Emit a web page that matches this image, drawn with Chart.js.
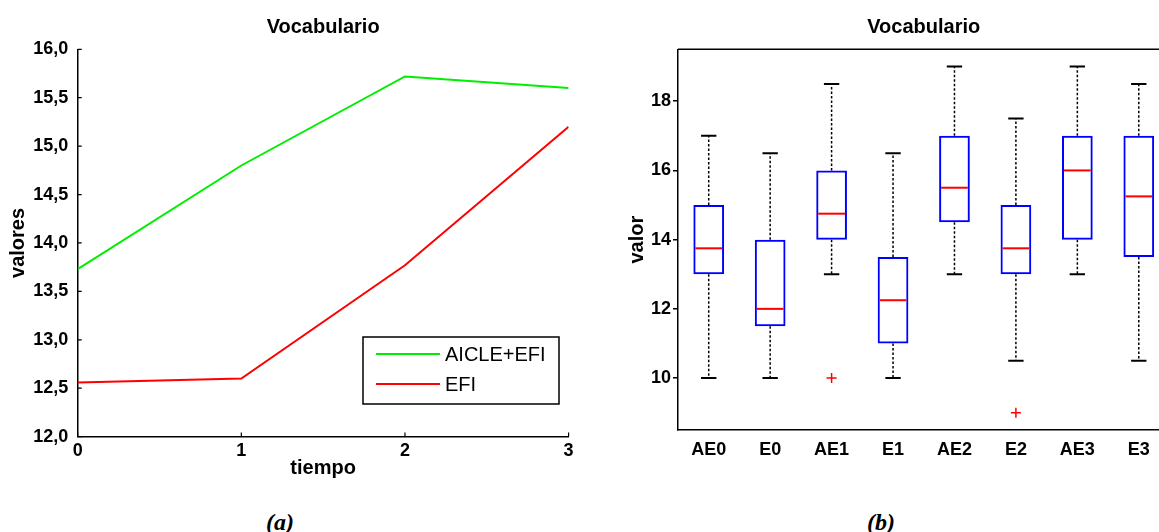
<!DOCTYPE html>
<html>
<head>
<meta charset="utf-8">
<script src="https://cdn.jsdelivr.net/npm/chart.js@4.4.1/dist/chart.umd.min.js"></script>
<style>
  html, body { margin: 0; padding: 0; background: #fff; }
  body { width: 1159px; height: 532px; overflow: hidden; position: relative; }
  #izq { position: absolute; left: 0; top: 0; }
  #der { position: absolute; left: 580px; top: 0; }
  .pie { position: absolute; top: 509px; line-height: 24px; font: italic bold 24px "Liberation Serif", "Times New Roman", serif; transform: translateX(-50%); }
</style>
</head>
<body>
<canvas id="izq" width="580" height="490"></canvas>
<canvas id="der" width="600" height="490"></canvas>
<div class="pie" style="left:280px">(a)</div>
<div class="pie" style="left:881px">(b)</div>
<script>
// panel (a): mean per time point
const tiempo = [0, 1, 2, 3];
const serieAicleEfi = [13.73, 14.80, 15.72, 15.60];
const serieEfi = [12.56, 12.60, 13.77, 15.20];
const marcasValores = [12, 12.5, 13, 13.5, 14, 14.5, 15, 15.5, 16];

// panel (b): box plot per group
const grupos = ["AE0", "E0", "AE1", "E1", "AE2", "E2", "AE3", "E3"];
const minimos = [10, 10, 13, 10, 13, 10.5, 13, 10.5];
const cuartil1 = [13, 11.5, 14, 11, 14.5, 13, 14, 13.5];
const medianas = [13.75, 12, 14.75, 12.25, 15.5, 13.75, 16, 15.25];
const cuartil3 = [15, 14, 16, 13.5, 17, 15, 17, 17];
const maximos = [17, 16.5, 18.5, 16.5, 19, 17.5, 19, 18.5];
const atipicosGrupo = ["AE1", "E2"];
const atipicosValor = [10, 9];
const marcasValor = [10, 12, 14, 16, 18];

const familia = "'Liberation Sans', Arial, sans-serif";
Chart.defaults.font.family = familia;
Chart.defaults.color = "#000";

// title centred over the plot area, like matlab does
const tituloPanel = {
  id: "tituloPanel",
  afterDraw(chart, args, opts) {
    const { ctx, chartArea } = chart;
    ctx.save();
    ctx.font = "bold 20px " + familia;
    ctx.fillStyle = "#000";
    ctx.textAlign = "center";
    ctx.textBaseline = "middle";
    ctx.fillText(opts.text, (chartArea.left + chartArea.right) / 2, opts.y);
    ctx.restore();
  }
};

// legend box sitting inside the plot, bottom right
const leyenda = {
  id: "leyenda",
  afterDatasetsDraw(chart) {
    const { ctx, chartArea } = chart;
    const w = 196, h = 67;
    const x0 = chartArea.right - 9.6 - w;
    const y0 = chartArea.bottom - 32.6 - h;
    ctx.save();
    ctx.fillStyle = "#fff";
    ctx.fillRect(x0, y0, w, h);
    ctx.strokeStyle = "#000";
    ctx.lineWidth = 1.5;
    ctx.strokeRect(x0, y0, w, h);
    ctx.font = "20px " + familia;
    ctx.textBaseline = "middle";
    chart.data.datasets.forEach((ds, i) => {
      const y = y0 + 17 + i * 30;
      ctx.strokeStyle = ds.borderColor;
      ctx.lineWidth = 2;
      ctx.beginPath();
      ctx.moveTo(x0 + 13, y);
      ctx.lineTo(x0 + 77, y);
      ctx.stroke();
      ctx.fillStyle = "#000";
      ctx.fillText(ds.label, x0 + 82, y + 1);
    });
    ctx.restore();
  }
};

// small inward tick marks on the line chart axes
const marcasDentro = {
  id: "marcasDentro",
  afterDraw(chart) {
    const { ctx, chartArea: a, scales: { x, y } } = chart;
    ctx.save();
    ctx.strokeStyle = "#000";
    ctx.lineWidth = 1.2;
    ctx.beginPath();
    y.ticks.forEach(t => {
      const py = y.getPixelForValue(t.value);
      ctx.moveTo(a.left, py);
      ctx.lineTo(a.left + 4, py);
    });
    x.ticks.forEach(t => {
      const px = x.getPixelForValue(t.value);
      ctx.moveTo(px, a.bottom);
      ctx.lineTo(px, a.bottom - 4);
    });
    ctx.stroke();
    ctx.restore();
  }
};

// whiskers, caps and medians of the box plot
const bigotes = {
  id: "bigotes",
  afterDatasetsDraw(chart) {
    const { ctx, scales: { x, y } } = chart;
    const paso = x.getPixelForValue(1) - x.getPixelForValue(0);
    ctx.save();
    grupos.forEach((g, i) => {
      const cx = x.getPixelForValue(i);
      ctx.strokeStyle = "#000";
      ctx.lineWidth = 1.5;
      ctx.setLineDash([2.5, 2]);
      ctx.beginPath();
      ctx.moveTo(cx, y.getPixelForValue(cuartil3[i]));
      ctx.lineTo(cx, y.getPixelForValue(maximos[i]));
      ctx.moveTo(cx, y.getPixelForValue(cuartil1[i]));
      ctx.lineTo(cx, y.getPixelForValue(minimos[i]));
      ctx.stroke();
      ctx.setLineDash([]);
      ctx.lineWidth = 2;
      ctx.beginPath();
      ctx.moveTo(cx - paso * 0.125, y.getPixelForValue(maximos[i]));
      ctx.lineTo(cx + paso * 0.125, y.getPixelForValue(maximos[i]));
      ctx.moveTo(cx - paso * 0.125, y.getPixelForValue(minimos[i]));
      ctx.lineTo(cx + paso * 0.125, y.getPixelForValue(minimos[i]));
      ctx.stroke();
      ctx.strokeStyle = "#ff0000";
      ctx.beginPath();
      ctx.moveTo(cx - paso * 0.25 + 2, y.getPixelForValue(medianas[i]));
      ctx.lineTo(cx + paso * 0.25 - 2, y.getPixelForValue(medianas[i]));
      ctx.stroke();
    });
    ctx.restore();
  }
};

// closes the frame on top and right
const marco = {
  id: "marco",
  afterDraw(chart) {
    const { ctx, chartArea: a } = chart;
    ctx.save();
    ctx.strokeStyle = "#000";
    ctx.lineWidth = 1.5;
    ctx.beginPath();
    ctx.moveTo(a.left, a.top);
    ctx.lineTo(a.right, a.top);
    ctx.lineTo(a.right, a.bottom);
    ctx.stroke();
    ctx.restore();
  }
};

const fuenteMarcas = { size: 18, weight: "bold" };

new Chart(document.getElementById("izq"), {
  type: "line",
  data: {
    datasets: [
      {
        label: "AICLE+EFI",
        data: tiempo.map((t, i) => ({ x: t, y: serieAicleEfi[i] })),
        borderColor: "#00ee00",
        borderWidth: 2,
        pointRadius: 0
      },
      {
        label: "EFI",
        data: tiempo.map((t, i) => ({ x: t, y: serieEfi[i] })),
        borderColor: "#ff0000",
        borderWidth: 2,
        pointRadius: 0
      }
    ]
  },
  options: {
    responsive: false,
    animation: false,
    layout: { padding: { top: 49.3, left: 0, right: 11.4, bottom: 9.4 } },
    plugins: {
      legend: { display: false },
      tooltip: { enabled: false },
      tituloPanel: { text: "Vocabulario", y: 27 }
    },
    scales: {
      x: {
        type: "linear",
        min: 0,
        max: 3,
        afterFit(s) { s.height = 44; },
        afterBuildTicks(s) { s.ticks = tiempo.map(v => ({ value: v })); },
        grid: { display: false, drawTicks: false },
        border: { color: "#000", width: 1.5 },
        ticks: { font: fuenteMarcas, padding: 3.3 },
        title: { display: true, text: "tiempo", font: { size: 20, weight: "bold" }, padding: 0 }
      },
      y: {
        min: 12,
        max: 16,
        afterFit(s) { s.width = 77.7; },
        afterBuildTicks(s) { s.ticks = marcasValores.map(v => ({ value: v })); },
        grid: { display: false, drawTicks: false },
        border: { color: "#000", width: 1.5 },
        ticks: { font: fuenteMarcas, padding: 9.4, callback: v => v.toFixed(1).replace(".", ",") },
        title: { display: true, text: "valores", font: { size: 20, weight: "bold" }, padding: { top: 6, bottom: 0 } }
      }
    }
  },
  plugins: [tituloPanel, leyenda, marcasDentro]
});

new Chart(document.getElementById("der"), {
  type: "bar",
  data: {
    labels: grupos,
    datasets: [
      {
        type: "bar",
        data: grupos.map((g, i) => [cuartil1[i], cuartil3[i]]),
        backgroundColor: "rgba(0,0,0,0)",
        borderColor: "#0000ff",
        borderWidth: 2,
        borderSkipped: false,
        barPercentage: 0.5,
        categoryPercentage: 1
      },
      {
        type: "line",
        data: atipicosGrupo.map((g, i) => ({ x: g, y: atipicosValor[i] })),
        showLine: false,
        pointStyle: "cross",
        pointRadius: 5,
        borderColor: "#ff0000",
        backgroundColor: "#ff0000",
        borderWidth: 1.5
      }
    ]
  },
  options: {
    responsive: false,
    animation: false,
    layout: { padding: { top: 49.3, left: 0, right: 10.5, bottom: 11 } },
    plugins: {
      legend: { display: false },
      tooltip: { enabled: false },
      tituloPanel: { text: "Vocabulario", y: 27 }
    },
    scales: {
      x: {
        afterFit(s) { s.height = 49; },
        grid: { display: false, drawTicks: false },
        border: { color: "#000", width: 1.5 },
        ticks: { font: fuenteMarcas, padding: 9.2 }
      },
      y: {
        min: 8.5,
        max: 19.5,
        afterFit(s) { s.width = 98; },
        afterBuildTicks(s) { s.ticks = marcasValor.map(v => ({ value: v })); },
        grid: { drawOnChartArea: false, drawTicks: true, tickLength: 5, color: "#000", lineWidth: 1.5 },
        border: { color: "#000", width: 1.5 },
        ticks: { font: fuenteMarcas, padding: 2 },
        title: { display: true, text: "valor", font: { size: 20, weight: "bold" }, padding: { top: 45.5, bottom: 0 } }
      }
    }
  },
  plugins: [tituloPanel, bigotes, marco]
});
</script>
</body>
</html>
